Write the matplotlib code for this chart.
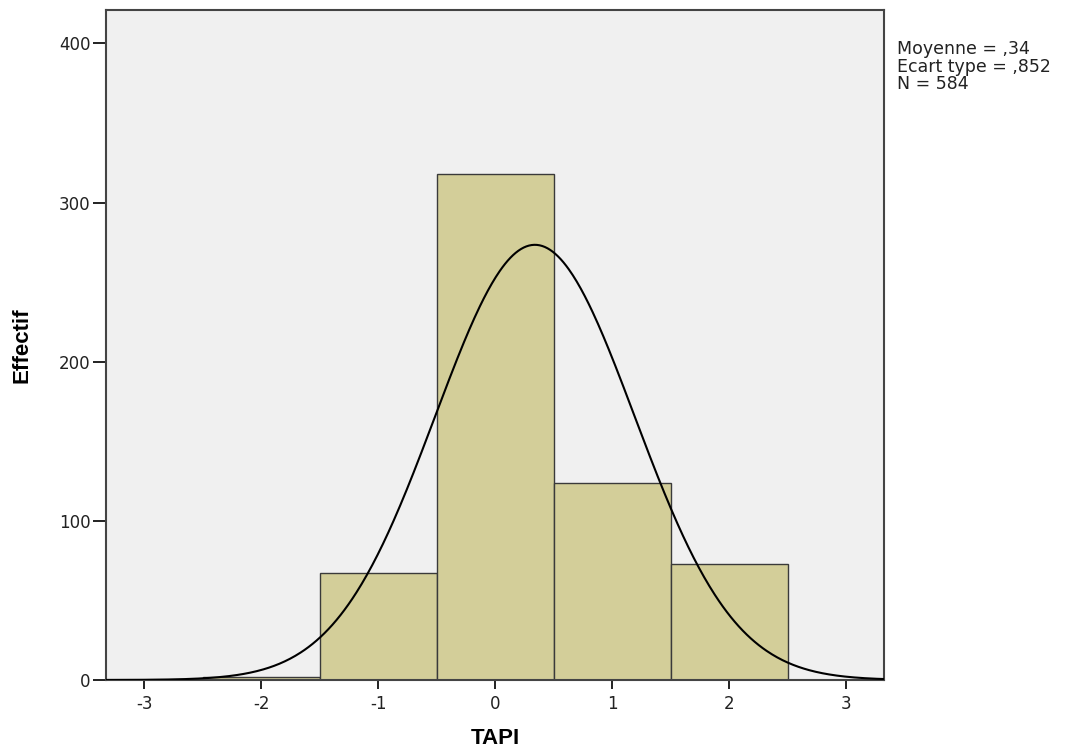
import numpy as np
import matplotlib
matplotlib.use("Agg")
import matplotlib.pyplot as plt

plt.rcParams['font.family'] = ['DejaVu Sans']

# Histogram of TAPI (bin edges and counts)
bin_edges = [-2.5, -1.5, -0.5, 0.5, 1.5, 2.5]
counts = [2, 67, 318, 124, 73]
mean = 0.34
std = 0.852
n = 584
x_ticks = [-3, -2, -1, 0, 1, 2, 3]
y_ticks = [0, 100, 200, 300, 400]

fig = plt.figure(figsize=(10.65, 7.51), dpi=100)
ax = fig.add_axes([106 / 1065, 71 / 751, (884 - 106) / 1065, (680 - 10) / 751])
ax.set_facecolor('#F0F0F0')

widths = np.diff(bin_edges)
ax.bar(bin_edges[:-1], counts, width=widths, align='edge',
       color='#D3CE99', edgecolor='#3A3A3A', linewidth=1.0, zorder=2)

# Normal curve scaled to counts
xs = np.linspace(-3.4, 3.4, 600)
bw = widths[0]
ys = n * bw / (std * np.sqrt(2 * np.pi)) * np.exp(-0.5 * ((xs - mean) / std) ** 2)
ax.plot(xs, ys, color='black', linewidth=1.5, zorder=3)

ax.set_xlim(-3.327, 3.325)
ax.set_ylim(0, 421)
ax.set_xticks(x_ticks)
ax.set_xticklabels([str(t) for t in x_ticks])
ax.set_yticks(y_ticks)
ax.tick_params(axis='both', direction='out', width=1.4,
               labelsize=12, colors='#222222')
ax.tick_params(axis='x', length=6.5, pad=4)
ax.tick_params(axis='y', length=9.5, pad=1.5)
for s in ax.spines.values():
    s.set_color('#444444')
    s.set_linewidth(1.5)

ax.set_xlabel('TAPI', fontsize=16, fontweight='bold', labelpad=11,
              family='Liberation Sans')
ax.set_ylabel('Effectif', fontsize=16, fontweight='bold', labelpad=19,
              family='Liberation Sans')

fig.text(897 / 1065, 1 - 40 / 751,
         'Moyenne = ,34\nEcart type = ,852\nN = 584',
         fontsize=12.5, va='top', ha='left', linespacing=0.98, color='#222222')

fig.savefig('out.png', dpi=100, facecolor='white')
